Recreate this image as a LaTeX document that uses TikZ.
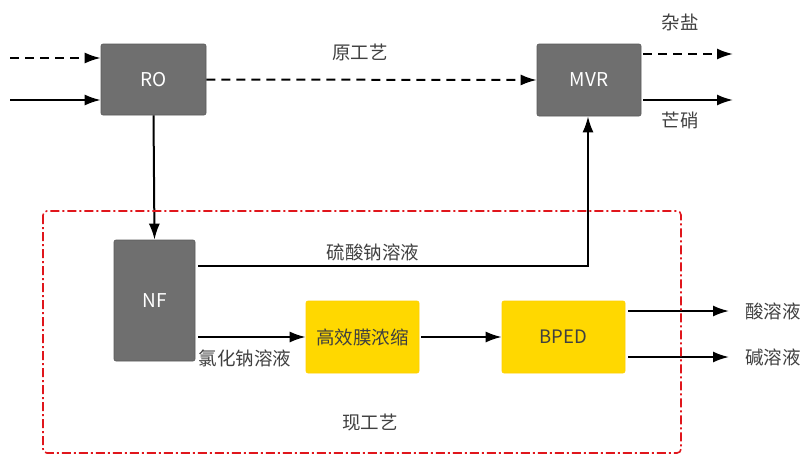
\documentclass[tikz,border=0pt]{standalone}
\usepackage{fontspec}
\setmainfont{Noto Sans CJK SC}
\usetikzlibrary{arrows.meta}
\definecolor{boxgray}{HTML}{6F6F6F}
\definecolor{boxyellow}{HTML}{FFD800}
\definecolor{txt}{HTML}{404040}
\definecolor{redline}{HTML}{E0161C}
\begin{document}
\begin{tikzpicture}[x=1pt,y=-1pt,
  graybox/.style={draw=boxgray!80!black,line width=0.6pt,fill=boxgray,rounded corners=2pt,text=white,font=\fontsize{19}{22}\selectfont,inner sep=0pt},
  yelbox/.style={draw=boxyellow!90!orange,line width=0.6pt,fill=boxyellow,rounded corners=2pt,text=txt,font=\fontsize{18.5}{22}\selectfont,inner sep=0pt},
  lbl/.style={text=txt,font=\fontsize{18.5}{22}\selectfont,inner sep=0pt},
  flow/.style={line width=2pt,-{Latex[length=16pt,width=11pt]}},
  dflow/.style={flow,dash pattern=on 9pt off 6pt}]
\useasboundingbox (0,0) rectangle (811,474);
\node[graybox,minimum width=105pt,minimum height=71pt] (ro) at (153.5,79.5) {RO};
\node[graybox,minimum width=104pt,minimum height=72pt] (mvr) at (589,80) {MVR};
\node[graybox,minimum width=81pt,minimum height=121pt] (nf) at (154.5,300.5) {NF};
\node[yelbox,minimum width=113pt,minimum height=72pt] (hx) at (362.5,337) {高效膜浓缩};
\node[yelbox,minimum width=123pt,minimum height=72pt] (bped) at (563.5,337) {BPED};

\coordinate (inA) at (10,58);
\coordinate (inB) at (10,100);
\draw[dflow] (inA) -- (inA -| ro.west);
\draw[flow] (inB) -- (inB -| ro.west);
\draw[dflow] (ro.east) -- (mvr.west);
\node[lbl] (l0) at (360,52) {原工艺};

\coordinate (o1) at (733,54);
\coordinate (o2) at (733,100);
\draw[dflow] (o1 -| mvr.east) ++(2,0) -- (o1);
\draw[flow] (o2 -| mvr.east) ++(2,0) -- (o2);
\node[lbl] (l1) at (680,22) {杂盐};
\node[lbl] (l2) at (680,120) {芒硝};

\draw[flow] (ro.south) -- (nf.north);

\coordinate (turn) at (588,266);
\draw[flow] (198,266) -- (turn) -- (turn |- mvr.south);
\node[lbl] (l3) at (373,252) {硫酸钠溶液};

\draw[flow] (198,337) -- (hx.west);
\node[lbl] (l4) at (245,358) {氯化钠溶液};
\draw[flow] (hx.east) ++(2,0) -- (bped.west);

\coordinate (a1) at (729,311);
\coordinate (a2) at (729,357);
\draw[flow] (a1 -| bped.east) ++(3,0) -- (a1);
\draw[flow] (a2 -| bped.east) ++(3,0) -- (a2);
\node[lbl] (l5) at (773,311) {酸溶液};
\node[lbl] (l6) at (773,357) {碱溶液};

\draw[redline,line width=1.6pt,rounded corners=4pt,dash pattern=on 9pt off 3pt on 2pt off 3pt] (43,211) rectangle (681,453);
\node[lbl] (l7) at (370,422) {现工艺};
\end{tikzpicture}
\end{document}
